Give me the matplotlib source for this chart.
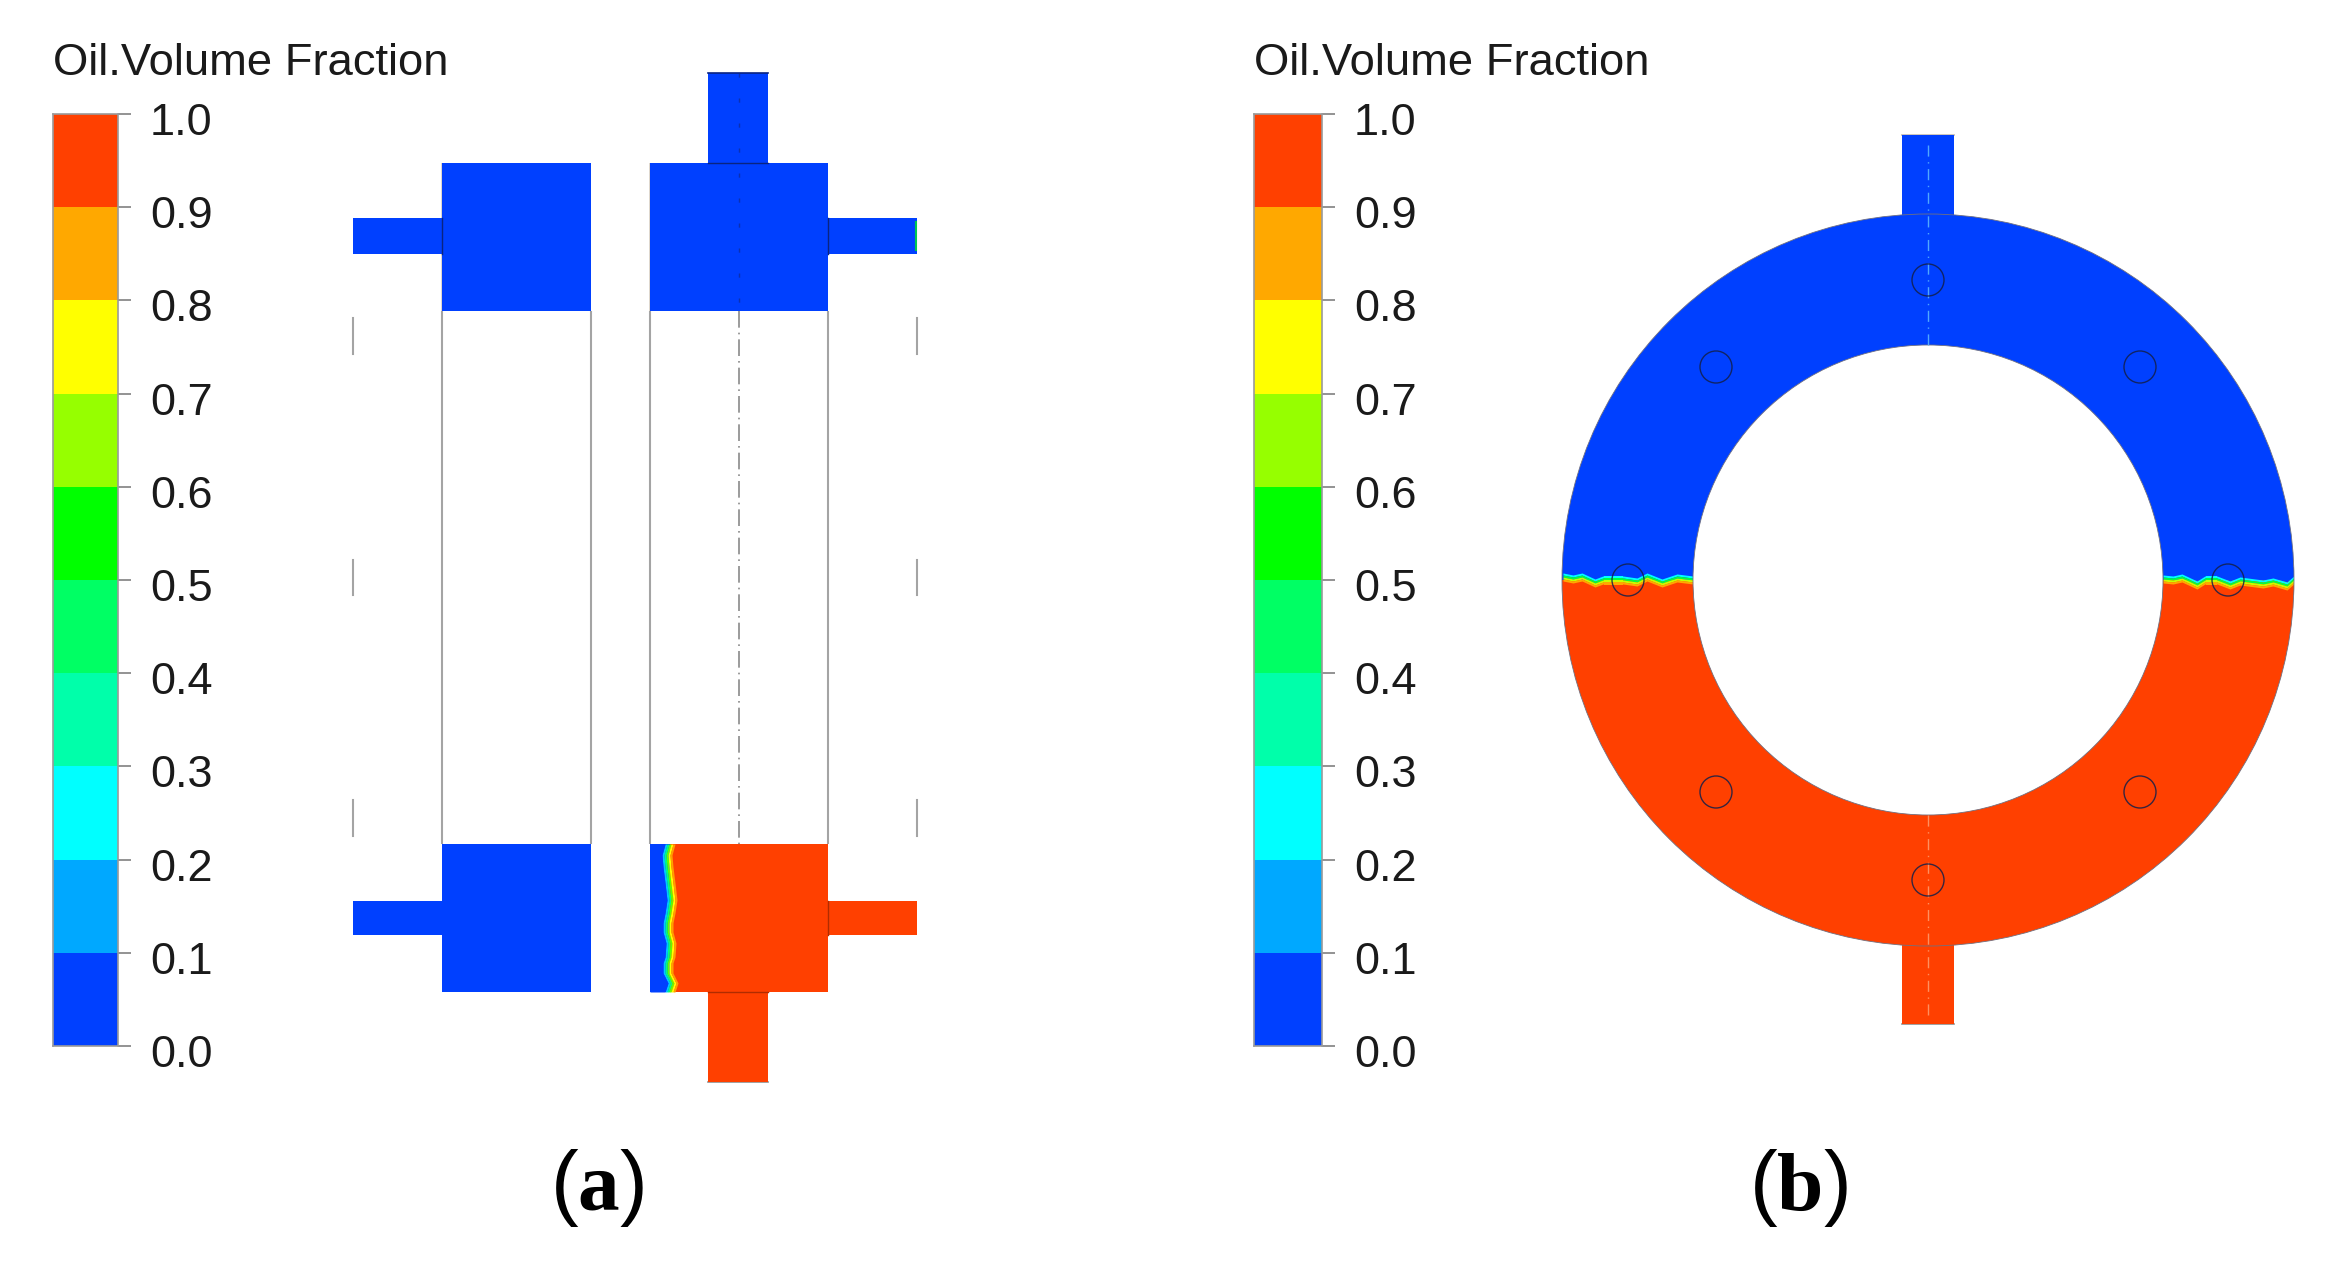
import matplotlib
matplotlib.use('Agg')
from matplotlib import pyplot as plt
from matplotlib.patches import Rectangle, Wedge, Circle

plt.rcParams['font.family'] = ['Liberation Sans', 'DejaVu Sans']
plt.rcParams['mathtext.fontset'] = 'custom'
plt.rcParams['mathtext.rm'] = 'Liberation Serif'
plt.rcParams['mathtext.bf'] = 'Liberation Serif:bold'

W, H = 2342, 1273

# colour scale
levels = [0.0, 0.1, 0.2, 0.3, 0.4, 0.5, 0.6, 0.7, 0.8, 0.9]
level_colors = ['#0040ff', '#00a8ff', '#00ffff', '#00ffaa', '#00ff64',
                '#00ff00', '#96ff00', '#ffff00', '#ffa800', '#ff4000']
tick_values = [0.0, 0.1, 0.2, 0.3, 0.4, 0.5, 0.6, 0.7, 0.8, 0.9, 1.0]
title = 'Oil.Volume Fraction'
blue = '#0040ff'
orange = '#ff4000'
grey = '#a4a4a4'

# panel (a), left column: x0, x1, y0, y1 in picture pixels
a_blue = [(353, 442, 218, 254), (442, 591, 163, 311), (353, 442, 901, 935), (442, 591, 844, 992),
          (708, 768, 73, 163), (650, 828, 163, 311), (828, 917, 218, 254), (650, 828, 844, 992)]
a_orange = [(828, 917, 901, 935), (708, 768, 992, 1082)]
a_walls = [442, 591, 650, 828]
a_dashes = [(353, 318, 354), (353, 560, 595), (353, 800, 836),
            (917, 318, 354), (917, 560, 595), (917, 800, 836)]

# oil front in the bottom right block of (a)
front_a_y = [844, 855, 867, 883, 900, 913, 923, 932, 943, 957, 963, 973, 983, 992]
front_a_x = [670, 667, 668, 670, 672, 670, 668, 668, 671, 670, 668, 668, 673, 670]

# panel (b)
ring_c = (1928, 580)
ring_outer = 366
ring_inner = 235
b_blue_stub = (1902, 1954, 135, 220)
b_orange_stub = (1902, 1954, 940, 1024)
hole_x = [1928, 2140, 2228, 2140, 1928, 1716, 1628, 1716]
hole_y = [280, 367, 580, 792, 880, 792, 580, 367]

# oil front left and right in (b)
front_bl_x = [1563, 1573, 1582, 1595, 1603, 1623, 1637, 1647, 1662, 1677, 1693]
front_bl_y = [577, 579, 577, 583, 580, 580, 582, 577, 583, 578, 580]
front_br_x = [2163, 2173, 2182, 2197, 2205, 2217, 2230, 2240, 2263, 2273, 2287, 2296]
front_br_y = [579, 580, 578, 585, 580, 580, 585, 581, 584, 582, 586, 578]

# band offsets across the oil front, from blue side to oil side
band_edges = [-4, -2, 0, 2, 4]
band_colors = ['#00ffff', '#00ff40', '#c8ff00', '#ffa800']


def colorbar(fig, x0, x1, y0, y1):
    ax = fig.add_axes([x0 / W, 1 - y1 / H, (x1 - x0) / W, (y1 - y0) / H])
    ax.bar([0] * len(levels), [0.1] * len(levels), bottom=levels, width=1,
           color=level_colors, align='edge')
    ax.set_xlim(0, 1)
    ax.set_ylim(0, 1)
    ax.set_xticks([])
    ax.yaxis.tick_right()
    ax.set_yticks(tick_values)
    ax.tick_params(axis='y', length=9.4, width=1.2, color='#808080', labelright=False)
    for s in ax.spines.values():
        s.set_color('#9a9a9a')
        s.set_linewidth(1.2)
    for v in tick_values:
        ax.annotate('%.1f' % v, (1, v), xycoords=('axes fraction', 'data'),
                    xytext=(23, -6.8), textcoords='offset points', va='center', ha='left',
                    fontsize=32.5, color='#1a1a1a')
    ax.text(0, 1 + 30 / (y1 - y0), title, transform=ax.transAxes, fontsize=32.7, color='#1a1a1a',
            va='bottom', ha='left')


def boxes(ax, items, color):
    for x0, x1, y0, y1 in items:
        ax.add_patch(Rectangle((x0, y0), x1 - x0, y1 - y0, facecolor=color, edgecolor='none', zorder=2))


def front_bands_h(ax, x, y, clip):
    # horizontal oil front, stacked colour bands
    p1 = ax.fill_between(x, [v - 14 for v in y], [v + band_edges[0] for v in y], color=blue, lw=0, zorder=3)
    p2 = ax.fill_between(x, [v + band_edges[-1] for v in y], [v + 14 for v in y], color=orange, lw=0, zorder=3)
    polys = [p1, p2]
    for i, c in enumerate(band_colors):
        polys.append(ax.fill_between(x, [v + band_edges[i] for v in y], [v + band_edges[i + 1] for v in y],
                                     color=c, lw=0, zorder=3))
    for p in polys:
        p.set_clip_path(clip)


fig = plt.figure(figsize=(W / 100, H / 100), dpi=100)
ax = fig.add_axes([0, 0, 1, 1])
ax.set_xlim(0, W)
ax.set_ylim(H, 0)
ax.axis('off')

colorbar(fig, 53, 118, 114, 1046)
colorbar(fig, 1254, 1322, 114, 1046)

# panel (a)
boxes(ax, a_blue, blue)
boxes(ax, a_orange, orange)
ax.add_patch(Rectangle((front_a_x[0], 844), 828 - front_a_x[0], 148, facecolor=orange, edgecolor='none', zorder=2))
ax.vlines(a_walls, 311, 844, color=grey, lw=1.5, zorder=1)
ax.vlines([442, 650], [163, 163], [311, 311], color='#d8d0c4', lw=1.2, zorder=1)
for x, y0, y1 in a_dashes:
    ax.plot([x, x], [y0, y1], color=grey, lw=1.5, zorder=1)
ax.plot([739, 739], [311, 844], color='#8a8a8a', lw=1.2, ls=(0, (10, 3, 1, 3)), zorder=1)
ax.plot([739, 739], [73, 311], color='#102a90', lw=1.0, ls=(0, (3, 15)), alpha=0.7, zorder=4)
ax.plot([708, 768], [163, 163], color='#0a2480', lw=1.0, zorder=4)
ax.plot([708, 768], [992, 992], color='#b02c00', lw=1.0, zorder=4)
ax.plot([708, 768], [1082, 1082], color='#909090', lw=1.2, zorder=1)
ax.plot([708, 768], [73, 73], color='#0a2480', lw=1.2, zorder=4)
ax.plot([442, 442], [218, 254], color='#0a2480', lw=1.0, zorder=4)
ax.plot([828, 828], [218, 254], color='#0a2480', lw=1.0, zorder=4)
ax.plot([828, 828], [901, 935], color='#b02c00', lw=1.0, zorder=4)
ax.plot([916, 916], [222, 250], color='#00c850', lw=1.5, zorder=4)
ax.fill_betweenx(front_a_y, [x - 5 for x in front_a_x], [x - 3 for x in front_a_x], color='#00c8ff', lw=0, zorder=3)
ax.fill_betweenx(front_a_y, [x - 3 for x in front_a_x], [x - 1 for x in front_a_x], color='#00ff80', lw=0, zorder=3)
ax.fill_betweenx(front_a_y, [x - 1 for x in front_a_x], [x + 1 for x in front_a_x], color='#60ff00', lw=0, zorder=3)
ax.fill_betweenx(front_a_y, [x + 1 for x in front_a_x], [x + 3 for x in front_a_x], color='#ffff00', lw=0, zorder=3)
ax.fill_betweenx(front_a_y, [x + 3 for x in front_a_x], [x + 5 for x in front_a_x], color='#ffa000', lw=0, zorder=3)
ax.fill_betweenx(front_a_y, [650] * len(front_a_x), [x - 5 for x in front_a_x], color=blue, lw=0, zorder=3)

# panel (b)
boxes(ax, [b_blue_stub], blue)
boxes(ax, [b_orange_stub], orange)
# y axis runs downward, so 0..180 deg is the lower half
ring_low = Wedge(ring_c, ring_outer, 0, 180, width=ring_outer - ring_inner, facecolor=orange, edgecolor='none', zorder=2)
ring_up = Wedge(ring_c, ring_outer, 180, 360, width=ring_outer - ring_inner, facecolor=blue, edgecolor='none', zorder=2)
ax.add_patch(ring_low)
ax.add_patch(ring_up)
ring_clip = Wedge(ring_c, ring_outer, 0, 360, width=ring_outer - ring_inner, transform=ax.transData)
front_bands_h(ax, front_bl_x, front_bl_y, ring_clip)
front_bands_h(ax, front_br_x, front_br_y, ring_clip)
ax.add_patch(Circle(ring_c, ring_outer, fill=False, edgecolor='#707080', lw=0.6, zorder=4))
ax.add_patch(Circle(ring_c, ring_inner, fill=False, edgecolor='#707080', lw=0.6, zorder=4))
ax.plot([1902, 1954], [135, 135], color='#c8c0b8', lw=1.3, zorder=1)
ax.plot([1902, 1954], [1024, 1024], color='#909090', lw=1.2, zorder=1)
ax.plot([1928, 1928], [145, 345], color='#50a8ff', lw=1.0, ls=(0, (8, 4, 1, 4)), zorder=4)
ax.plot([1928, 1928], [815, 1015], color='#ff9060', lw=1.0, ls=(0, (8, 4, 1, 4)), zorder=4)
for x, y in zip(hole_x, hole_y):
    ax.add_patch(Circle((x, y), 16, fill=False, edgecolor='#14204a', lw=1.0, alpha=0.85, zorder=5))

ax.text(597, 1188, r'($\mathbf{a}$)', fontsize=60, ha='center', va='center', color='black')
ax.text(1798, 1188, r'($\mathbf{b}$)', fontsize=60, ha='center', va='center', color='black')

plt.savefig('out.png', dpi=100)
